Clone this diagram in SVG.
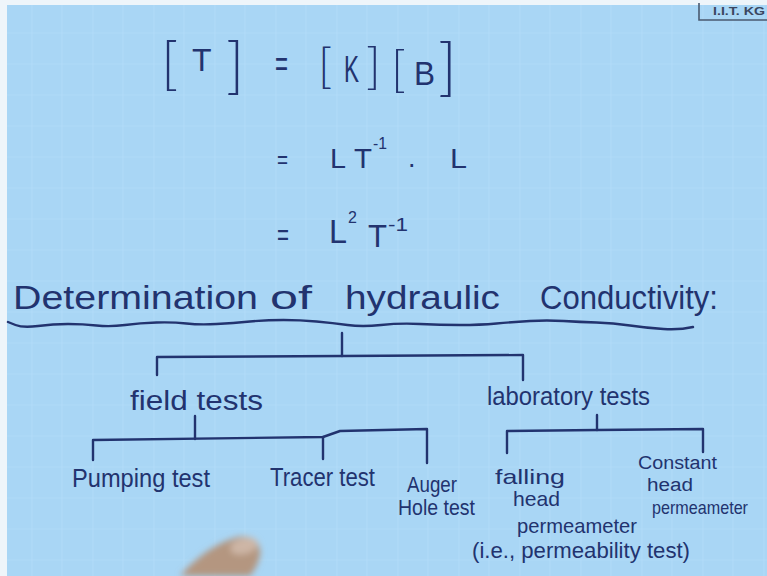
<svg xmlns="http://www.w3.org/2000/svg" width="767" height="576" viewBox="0 0 767 576">
<defs>
<style>
.ink{fill:#22336f;font-family:"Liberation Sans",Arial,sans-serif;}
.br{fill:#22336f;font-family:Lato,"Liberation Sans",sans-serif;font-weight:300;}
.ln{fill:none;stroke:#22336f;stroke-width:2.4;stroke-linecap:round;stroke-linejoin:round;}
.grid{stroke:#b6defa;stroke-width:1.2;opacity:0.5;}
</style>
<filter id="blur" x="-30%" y="-30%" width="160%" height="160%"><feGaussianBlur stdDeviation="3"/></filter>
</defs>
<rect width="767" height="576" fill="#a9d6f5"/>
<g id="grid">
<path class="grid" d="M32,0V576M62,0V576M93,0V576M123,0V576M154,0V576M184,0V576M215,0V576M245,0V576M276,0V576M306,0V576M337,0V576M367,0V576M398,0V576M428,0V576M459,0V576M489,0V576M520,0V576M550,0V576M581,0V576M611,0V576M642,0V576M672,0V576M703,0V576M733,0V576M764,0V576"/>
<path class="grid" d="M0,33H767M0,64H767M0,95H767M0,126H767M0,157H767M0,188H767M0,219H767M0,250H767M0,281H767M0,312H767M0,343H767M0,374H767M0,405H767M0,436H767M0,467H767M0,498H767M0,529H767M0,560H767"/>
</g>
<rect x="0" y="0" width="767" height="5" fill="#eef5fa"/>
<rect x="0" y="0" width="7" height="576" fill="#eef5fa"/>
<g id="logo">
<path d="M699,3V20H767" fill="none" stroke="#4a5a70" stroke-width="1.6"/>
<text x="713" y="15" font-family="'Liberation Sans',Arial,sans-serif" font-size="10" font-weight="bold" fill="#3a4660" textLength="52" lengthAdjust="spacingAndGlyphs">I.I.T. KG</text>
</g>
<g id="equation">
<text class="br"><tspan x="161" y="83" font-size="58">[</tspan><tspan x="226" y="87" font-size="62">]</tspan></text>
<text class="ink" x="192" y="71" font-size="32">T</text>
<text class="ink" x="275" y="76" font-size="36" textLength="13" lengthAdjust="spacingAndGlyphs">=</text>
<text class="br"><tspan x="318" y="83" font-size="48">[</tspan><tspan x="366" y="83" font-size="50">]</tspan></text>
<text class="ink" x="344" y="82" font-size="36" textLength="15" lengthAdjust="spacingAndGlyphs">K</text>
<text class="br"><tspan x="391" y="86" font-size="50">[</tspan><tspan x="438" y="89" font-size="64">]</tspan></text>
<text class="ink" x="414" y="85" font-size="34" textLength="21" lengthAdjust="spacingAndGlyphs">B</text>
<text class="ink" x="277" y="168" font-size="26" textLength="11" lengthAdjust="spacingAndGlyphs">=</text>
<text class="ink" font-size="27"><tspan x="330" y="168" textLength="16" lengthAdjust="spacingAndGlyphs">L</tspan><tspan x="354" y="168" textLength="18" lengthAdjust="spacingAndGlyphs">T</tspan><tspan x="373" y="149" font-size="17" textLength="14" lengthAdjust="spacingAndGlyphs">-1</tspan><tspan x="408" y="167">.</tspan><tspan x="450" y="168" textLength="17" lengthAdjust="spacingAndGlyphs">L</tspan></text>
<text class="ink" x="277" y="245" font-size="30" textLength="12" lengthAdjust="spacingAndGlyphs">=</text>
<text class="ink"><tspan x="329" y="243" font-size="34" textLength="18" lengthAdjust="spacingAndGlyphs">L</tspan><tspan x="348" y="223" font-size="16">2</tspan><tspan x="368" y="247" font-size="32" textLength="19" lengthAdjust="spacingAndGlyphs">T</tspan><tspan x="388" y="231" font-size="19" textLength="20" lengthAdjust="spacingAndGlyphs">-1</tspan></text>
</g>
<g id="heading">
<text class="ink" font-size="34" y="309"><tspan x="13" textLength="245" lengthAdjust="spacingAndGlyphs">Determination</tspan><tspan x="270" textLength="42" lengthAdjust="spacingAndGlyphs">of</tspan><tspan x="345" textLength="155" lengthAdjust="spacingAndGlyphs">hydraulic</tspan><tspan x="540" textLength="178" lengthAdjust="spacingAndGlyphs">Conductivity:</tspan></text>
<path class="ln" stroke-width="2.6" d="M8,322 L15.5,325 Q23,328 38,326 Q53,324 68,324 Q83,324 96.5,325.5 Q110,327 125,325 Q140,323 156.5,322.5 Q173,322 186.5,323.5 Q200,325 216.5,324 Q233,323 250,321.5 Q267,320 283.5,320 Q300,320 316.5,321.5 Q333,323 347.5,325 Q362,327 381,325 Q400,323 420,324 Q440,325 460,325 Q480,325 496.5,323.5 Q513,322 530,321 Q547,320 563.5,321 Q580,322 596.5,322.5 Q613,323 630,325.5 Q647,328 663.5,329 Q680,330 693,327"/>
</g>
<g id="connectors">
<path class="ln" d="M342,333 L342,356"/>
<path class="ln" d="M157,375 L157,357 L342,356 L523,355 L523,380"/>
<path class="ln" d="M195,416 L195,439"/>
<path class="ln" d="M93,460 L93,440 L323,437 L340,431 L427,429 L427,463"/>
<path class="ln" d="M323,437 L323,459"/>
<path class="ln" d="M597,415 L597,430"/>
<path class="ln" d="M507,453 L507,431 L597,430 L703,429 L703,452"/>
</g>
<g id="field-tests"><text class="ink" x="130" y="410" font-size="27" textLength="133" lengthAdjust="spacingAndGlyphs">field tests</text></g>
<g id="laboratory-tests"><text class="ink" x="487" y="405" font-size="25" textLength="163" lengthAdjust="spacingAndGlyphs">laboratory tests</text></g>
<g id="pumping-test"><text class="ink" x="72" y="487" font-size="26" textLength="138" lengthAdjust="spacingAndGlyphs">Pumping test</text></g>
<g id="tracer-test"><text class="ink" x="270" y="486" font-size="26" textLength="105" lengthAdjust="spacingAndGlyphs">Tracer test</text></g>
<g id="auger-hole-test"><text class="ink" font-size="22"><tspan x="407" y="492" textLength="50" lengthAdjust="spacingAndGlyphs">Auger</tspan><tspan x="398" y="515" textLength="77" lengthAdjust="spacingAndGlyphs">Hole test</tspan></text></g>
<g id="falling-head-permeameter"><text class="ink" font-size="21"><tspan x="495" y="484" textLength="70" lengthAdjust="spacingAndGlyphs">falling</tspan><tspan x="513" y="506" textLength="47" lengthAdjust="spacingAndGlyphs">head</tspan><tspan x="517" y="533" textLength="120" lengthAdjust="spacingAndGlyphs">permeameter</tspan><tspan x="472" y="558" font-size="22" textLength="218" lengthAdjust="spacingAndGlyphs">(i.e., permeability test)</tspan></text></g>
<g id="constant-head-permeameter"><text class="ink" font-size="18"><tspan x="638" y="469" textLength="79" lengthAdjust="spacingAndGlyphs">Constant</tspan><tspan x="647" y="491" textLength="46" lengthAdjust="spacingAndGlyphs">head</tspan><tspan x="652" y="514" font-size="19" textLength="96" lengthAdjust="spacingAndGlyphs">permeameter</tspan></text></g>
<g id="finger" filter="url(#blur)">
<path d="M180,576 C192,562 210,546 234,538 C251,533 262,542 260,555 C258,566 253,572 250,576 Z" fill="#b49680"/>
<ellipse cx="244" cy="546" rx="14" ry="8" transform="rotate(-15 244 546)" fill="#cdb6a6"/>
</g>
</svg>
